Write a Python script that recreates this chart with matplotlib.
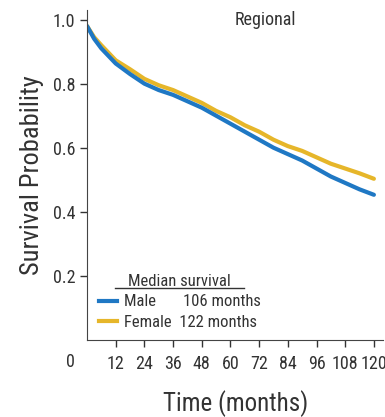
import matplotlib
matplotlib.use("Agg")
import matplotlib.pyplot as plt
import matplotlib.transforms as mtransforms
from matplotlib.lines import Line2D

plt.rcParams['font.family'] = ['Roboto Condensed', 'DejaVu Sans']

months = [0, 3, 6, 12, 18, 24, 30, 36, 42, 48, 54, 60, 66, 72, 78, 84, 90, 96, 102, 108, 114, 120]
male = [0.98, 0.94, 0.91, 0.863, 0.83, 0.80, 0.78, 0.765, 0.745, 0.725, 0.70, 0.675,
        0.65, 0.625, 0.60, 0.58, 0.56, 0.535, 0.51, 0.49, 0.47, 0.453]
female = [0.98, 0.945, 0.92, 0.873, 0.845, 0.815, 0.795, 0.78, 0.76, 0.74, 0.715, 0.695,
          0.67, 0.65, 0.625, 0.605, 0.59, 0.57, 0.55, 0.535, 0.52, 0.503]
xticks = [12, 24, 36, 48, 60, 72, 84, 96, 108, 120]
yticks = [0.2, 0.4, 0.6, 0.8, 1.0]

blue = '#1f78c4'
gold = '#e6b62a'
txt = '#333333'

fig = plt.figure(figsize=(3.85, 4.17), dpi=100)
ax = fig.add_axes([0.226, 0.185, 0.77, 0.791])

ax.plot(months, female, color=gold, lw=3, solid_capstyle='round')
ax.plot(months, male, color=blue, lw=3, solid_capstyle='round')

ax.set_xlim(0, 124)
ax.set_ylim(0, 1.03)
ax.set_xticks(xticks)
ax.set_yticks(yticks)
ax.set_yticklabels([f'{v:.1f}' for v in yticks])
ax.tick_params(labelsize=13, colors=txt, length=5, width=1)
ax.tick_params(axis='x', pad=6)
for s in ['top', 'right']:
    ax.spines[s].set_visible(False)
for s in ['left', 'bottom']:
    ax.spines[s].set_color('#444444')

# origin label sits on the x tick row, left of the y axis
ax.text(-7, -0.04, '0', transform=mtransforms.blended_transform_factory(ax.transData, ax.transAxes),
        ha='center', va='top', fontsize=13, color=txt)

ax.set_xlabel('Time (months)', fontsize=18, color=txt, labelpad=12)
ax.set_ylabel('Survival Probability', fontsize=19, color=txt, labelpad=6)
ax.text(0.6, 0.997, 'Regional', transform=ax.transAxes, ha='center', va='top', fontsize=13, color=txt)

handles = [Line2D([], [], color=blue, lw=3), Line2D([], [], color=gold, lw=3)]
leg = ax.legend(handles, ['Male       106 months', 'Female  122 months'],
                title='Median survival', loc='lower left', bbox_to_anchor=(0.0, -0.006),
                frameon=False, fontsize=12, handlelength=1.1, handletextpad=0.4,
                labelspacing=0.35, borderpad=0.2)
leg.get_title().set_fontsize(12)
leg.get_title().set_color(txt)
for t in leg.get_texts():
    t.set_color(txt)

fig.canvas.draw()
bb = leg.get_title().get_window_extent().transformed(fig.transFigure.inverted())
fig.add_artist(Line2D([bb.x0 - 0.035, bb.x1 + 0.035], [bb.y0 + 0.002, bb.y0 + 0.002],
                      transform=fig.transFigure, color=txt, lw=1))

fig.savefig('out.png', dpi=100)
